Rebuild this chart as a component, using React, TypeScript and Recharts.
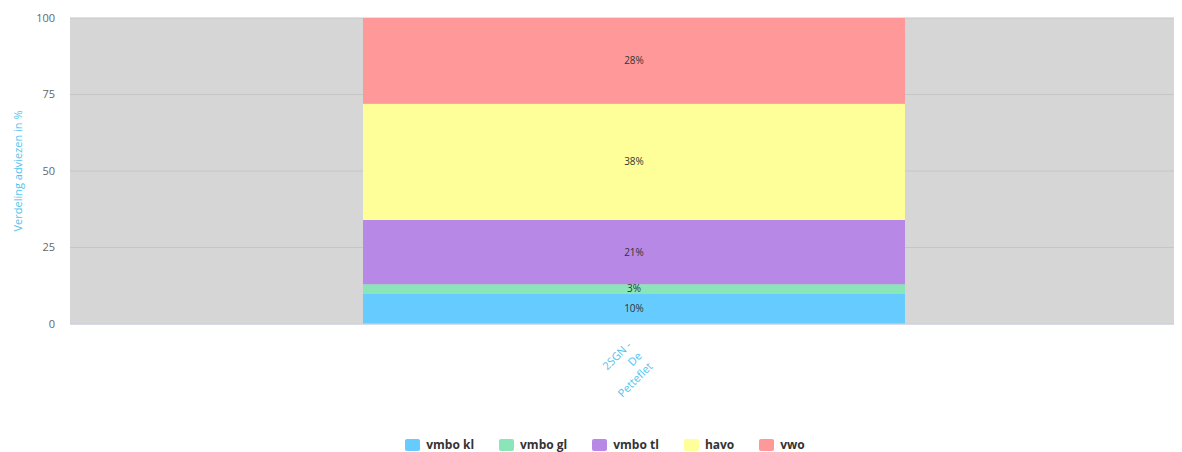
import React from "react";
import { BarChart, Bar, XAxis, YAxis, CartesianGrid, Legend, LabelList } from "recharts";

const categories = ["2SGN - De Petteflet"];
const seriesNames = ["vmbo kl", "vmbo gl", "vmbo tl", "havo", "vwo"];
const seriesValues = [10, 3, 21, 38, 28];
const seriesColors = ["#66ccff", "#8ae6b8", "#b888e6", "#ffff99", "#ff9999"];
const yTicks = [0, 25, 50, 75, 100];

const data = categories.map((c) => {
  const row: Record<string, string | number> = { name: c };
  seriesNames.forEach((s, i) => {
    row[s] = seriesValues[i];
  });
  return row;
});

const FONT = "'Open Sans', 'DejaVu Sans', sans-serif";
const BLUE = "#4fc3f0";

const XTick = (props: any) => {
  const { x, y } = props;
  const lines = ["2SGN -", "De", "Petteflet"];
  return (
    <g transform={`translate(${x - 2},${y + 14}) rotate(-45)`}>
      {lines.map((l, i) => (
        <text
          key={i}
          x={0}
          y={0}
          dy={i * 15}
          textAnchor="end"
          fill={BLUE}
          fontSize={11}
          fontFamily={FONT}
        >
          {l}
        </text>
      ))}
    </g>
  );
};

const LegendContent = () => (
  <div
    style={{
      display: "flex",
      justifyContent: "center",
      alignItems: "center",
      fontFamily: FONT,
      fontSize: 12,
      fontWeight: 700,
      color: "#333",
      height: 18,
      lineHeight: "18px",
      paddingLeft: 4,
    }}
  >
    {seriesNames.map((s, i) => (
      <div key={s} style={{ display: "flex", alignItems: "center", marginRight: i < seriesNames.length - 1 ? 25 : 0 }}>
        <span
          style={{
            display: "inline-block",
            width: 15,
            height: 12,
            background: seriesColors[i],
            borderRadius: 2,
            marginRight: 6,
          }}
        />
        <span>{s}</span>
      </div>
    ))}
  </div>
);

export default function App() {
  return (
    <div style={{ width: 1174, height: 444, overflow: "hidden" }}>
      <BarChart
        width={1190}
        height={446}
        data={data}
        margin={{ top: 10, right: 0, bottom: 0, left: 0 }}
        style={{ fontFamily: FONT }}
      >
        <CartesianGrid vertical={false} fill="#d6d6d6" stroke="#c6c6c6" />
        <XAxis
          dataKey="name"
          height={112}
          interval={0}
          tickLine={false}
          axisLine={{ stroke: "#ccd6eb" }}
          tick={<XTick />}
        />
        <YAxis
          width={62}
          domain={[0, 100]}
          ticks={yTicks}
          tickLine={false}
          axisLine={false}
          tickSize={0}
          tickMargin={15}
          tick={{ fill: "#666666", fontSize: 11, fontFamily: FONT }}
          label={{
            value: "Verdeling adviezen in %",
            angle: -90,
            position: "insideLeft",
            offset: 10,
            style: { textAnchor: "middle", fill: BLUE, fontSize: 11, fontFamily: FONT },
          }}
        />
        <Legend verticalAlign="bottom" height={18} content={<LegendContent />} />
        {seriesNames.map((s, i) => (
          <Bar key={s} dataKey={s} stackId="a" fill={seriesColors[i]} barSize={542} isAnimationActive={false}>
            <LabelList
              dataKey={s}
              position="center"
              formatter={(v: any) => `${v}%`}
              style={{ fill: "#333", fontSize: 10, fontFamily: FONT }}
            />
          </Bar>
        ))}
      </BarChart>
    </div>
  );
}
